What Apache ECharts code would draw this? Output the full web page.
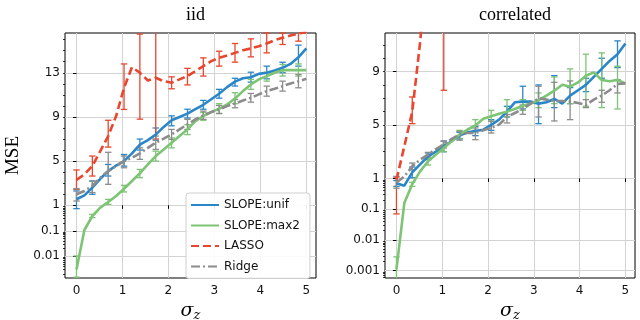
<!DOCTYPE html>
<html><head><meta charset="utf-8">
<script src="https://cdn.jsdelivr.net/npm/echarts@6/dist/echarts.min.js"></script>
<style>html,body{margin:0;padding:0;background:#fff}#c{width:640px;height:320px}</style>
</head><body><div id="c"></div>
<script>
// x positions (sigma_z)
const sigma = [0,0.172,0.345,0.517,0.690,0.862,1.034,1.207,1.379,1.552,1.724,1.897,2.069,2.241,2.414,2.586,2.759,2.931,3.103,3.276,3.448,3.621,3.793,3.966,4.138,4.310,4.483,4.655,4.828,5.0];
// error bars are drawn at every other sigma (index 0,2,...,28)

// ---- iid panel ----
const iidUnif   = [1.55,1.9,2.6,3.4,4.1,4.6,5.0,5.7,6.5,6.9,7.4,8.1,8.7,9.0,9.3,9.7,10.1,10.6,11.1,11.7,12.2,12.5,12.6,12.9,13.0,13.2,13.45,13.8,14.4,15.2];
const iidUnifLo = [0.74,2.0,3.65,4.55,6.0,6.9,8.2,8.9,9.7,10.7,11.8,12.15,12.45,13.0,13.6];
const iidUnifHi = [2.3,3.2,4.7,5.6,7.0,8.0,9.1,9.7,10.5,11.5,12.5,13.05,13.6,13.95,15.5];

const iidMax2   = [0.003,0.107,0.38,0.81,1.30,1.84,2.5,3.2,3.9,4.7,5.46,6.06,6.67,7.27,7.87,8.62,9.08,9.44,9.74,10.13,10.67,11.34,11.94,12.4,12.7,13.0,13.24,13.24,13.24,13.24];
const iidMax2Lo = [0.0015,0.33,1.09,2.21,3.5,5.0,6.2,7.4,8.7,9.3,10.2,11.5,12.24,12.7,12.7];
const iidMax2Hi = [0.0102,0.44,1.54,2.81,4.25,5.9,7.1,8.3,9.4,10.2,11.2,12.4,13.05,13.75,13.8];

const iidLasso   = [3.29,3.8,4.56,5.9,7.27,9.08,11.64,13.5,13.0,12.3,12.55,12.24,12.1,12.4,12.7,13.15,13.6,14.05,14.35,14.56,14.8,15.04,15.2,15.4,15.65,15.95,16.16,16.37,16.55,16.67];
const iidLassoLo = [2.45,3.65,6.27,9.68,8.8,7.0,11.55,11.9,12.7,13.6,13.96,14.44,14.8,15.56,15.86];
const iidLassoHi = [4.2,5.46,8.7,13.8,16.5,25,12.63,13.4,14.35,14.95,15.65,16.07,16.6,16.6,16.76];

const iidRidge   = [2.0,2.3,2.75,3.5,4.1,4.56,5.0,5.3,5.7,6.2,6.67,7.03,7.42,7.87,8.32,8.78,9.14,9.44,9.68,9.98,10.22,10.49,10.73,11.04,11.34,11.55,11.79,12.03,12.24,12.45];
const iidRidgeLo = [1.39,2.15,2.9,4.4,5.16,6.06,6.97,7.87,8.78,9.32,9.83,10.34,10.88,11.34,11.64];
const iidRidgeHi = [2.5,3.2,5.8,5.46,6.2,7.27,7.87,8.78,9.53,10.04,10.58,11.13,11.79,12.24,12.84];

// ---- correlated panel ----
const corUnif   = [0.7,0.58,1.45,2.05,2.65,3.0,3.4,3.8,4.2,4.45,4.55,4.65,5.0,5.4,6.0,6.7,6.75,6.75,6.6,6.7,6.95,6.6,7.2,7.6,8.0,8.6,9.2,9.8,10.3,11.1];
const corUnifLo = [0.55,1.05,2.4,3.0,3.95,4.2,4.6,5.6,6.2,5.1,6.3,6.6,7.5,8.5,9.3];
const corUnifHi = [0.85,1.85,2.9,3.8,4.45,4.9,5.4,6.4,7.9,8.0,8.7,7.8,8.5,10.0,11.3];

const corMax2   = [0.0011,0.157,0.65,1.53,2.28,2.78,3.28,3.78,4.28,4.66,4.96,5.46,5.66,5.84,6.0,6.2,6.44,6.6,6.86,7.2,7.57,8.02,7.87,8.19,8.69,8.94,8.37,8.27,8.37,8.12];
const corMax2Lo = [0.0004,0.55,2.0,3.0,4.0,4.6,5.3,5.6,6.1,6.3,6.6,6.6,6.4,6.3,6.2];
const corMax2Hi = [0.0028,0.75,2.5,3.5,4.6,5.4,6.1,6.9,6.9,7.4,8.6,9.2,10.3,10.4,9.4];

const corLasso   = [0.9,3.4,6.0,11.2,18,22,27,31,35,38,41,44,46,48,50,52,54,56,58,60,62,63,64,66,68,69,70,72,74,75];
const corLassoLo = [0.07,5.1,14,7.6,20,25,28,32,35,38,40,42,45,47,50];
const corLassoHi = [1.1,7.1,25,30,40,45,50,55,60,65,70,75,80,85,90];

const corRidge   = [0.74,1.15,1.9,2.4,2.78,3.2,3.53,3.96,4.28,4.4,4.4,4.6,4.78,5.03,5.6,5.9,6.2,6.6,7.0,6.9,6.8,6.8,6.76,6.65,6.5,6.9,7.2,7.6,8.07,8.12];
const corRidgeLo = [0.48,1.65,2.6,3.28,3.86,3.9,4.4,5.15,5.8,5.6,5.3,5.4,6.3,6.7,7.4];
const corRidgeHi = [1.15,2.15,2.95,3.78,4.53,4.78,5.28,5.78,6.5,7.9,8.2,8.3,6.9,7.6,8.4];

// tick labels
const iidTicks = [0.01,0.1,1,5,9,13];
const corTicks = [0.001,0.01,0.1,1,5,9];
const xTicks = [0,1,2,3,4,5];
const legendNames = ['SLOPE:unif','SLOPE:max2','LASSO','Ridge'];

// mixed scale: log below 1, linear above 1 (continuous slope at 1)
function T(y){ return y >= 1 ? y - 1 : Math.log(y); }
function fmt(t){
  const v = t >= -1e-9 ? t + 1 : Math.exp(t);
  if (v >= 1) return String(Math.round(v));
  const d = Math.round(-Math.log10(v));
  return v.toFixed(d);
}
function minorTicks(minT, maxT){
  const out = [];
  for (let e = -4; e <= -1; e++) for (let m = 2; m <= 9; m++){ const v = m*Math.pow(10,e); const t=T(v); if (t>minT && t<maxT) out.push(t); }
  for (let v = 2; v <= 20; v++){ const t = T(v); if (t < maxT) out.push(t); }
  return out;
}

const C = {unif:'#2b86c8', max2:'#7dc474', lasso:'#e8462f', ridge:'#8c8c8c'};
const FONT = 'DejaVu Sans';

function lineS(name, vals, gi, color, type){
  return {
    type:'line', name:name, xAxisIndex:gi, yAxisIndex:gi*2,
    data: vals.map((v,i)=>[sigma[i], T(v)]),
    showSymbol:false, symbol:'none', clip:true, silent:true,
    lineStyle:{color:color, width:2.6, type:type, cap:'butt'},
    itemStyle:{color:color}, animation:false
  };
}
function errS(lo, hi, gi, color){
  return {
    type:'custom', name:'err', xAxisIndex:gi, yAxisIndex:gi*2, silent:true, animation:false,
    encode:{x:0, y:[1,2]},
    data: lo.map((l,k)=>[sigma[2*k], T(l), T(hi[k])]),
    renderItem: function(params, api){
      const x = api.value(0);
      const p1 = api.coord([x, api.value(1)]);
      const p2 = api.coord([x, api.value(2)]);
      const cs = params.coordSys;
      const top = cs.y, bot = cs.y + cs.height;
      const a = Math.min(Math.max(p1[1], top), bot);
      const b = Math.min(Math.max(p2[1], top), bot);
      if (Math.abs(a-b) < 0.01) return null;
      const st = {stroke:color, lineWidth:1.3};
      const ch = [{type:'line', shape:{x1:p1[0],y1:a,x2:p1[0],y2:b}, style:st}];
      const w = 3.2;
      if (p1[1] >= top && p1[1] <= bot) ch.push({type:'line', shape:{x1:p1[0]-w,y1:p1[1],x2:p1[0]+w,y2:p1[1]}, style:st});
      if (p2[1] >= top && p2[1] <= bot) ch.push({type:'line', shape:{x1:p2[0]-w,y1:p2[1],x2:p2[0]+w,y2:p2[1]}, style:st});
      return {type:'group', children:ch};
    }
  };
}

const ranges = [{min:-6.58, max:15.6}, {min:-7.46, max:10.89}];
const tickSets = [iidTicks, corTicks];

const grids = [
  {left:65, width:251, top:33, bottom:42, outerBoundsMode:'none', containLabel:false, show:true, borderColor:'#000', borderWidth:1, backgroundColor:'transparent'},
  {left:385, width:250, top:33, bottom:42, outerBoundsMode:'none', containLabel:false, show:true, borderColor:'#000', borderWidth:1, backgroundColor:'transparent'}
];
const xAxes = [0,1].map(gi=>({
  type:'value', gridIndex:gi, min:-0.25, max:5.21,
  axisLine:{show:false},
  axisTick:{show:true, length:3.5, lineStyle:{color:'#000'}, customValues:xTicks},
  axisLabel:{customValues:xTicks, margin:7, color:'#111', fontSize:12, fontFamily:FONT, formatter:v=>String(Math.round(v))},
  splitLine:{show:true, lineStyle:{color:'#d3d3d3', width:1}},
  name:'{s|σ}{z|z}', nameLocation:'middle', nameGap:19,
  nameTextStyle:{rich:{s:{fontFamily:'DejaVu Serif', fontStyle:'italic', fontSize:19, color:'#000'}, z:{fontFamily:'DejaVu Serif', fontStyle:'italic', fontSize:13, color:'#000', padding:[8,0,0,0]}}}
}));
const yAxes = [];
[0,1].forEach(gi=>{
  const tv = tickSets[gi].map(T);
  yAxes.push({
    type:'value', gridIndex:gi, min:ranges[gi].min, max:ranges[gi].max,
    axisLine:{show:false},
    axisTick:{show:true, length:3.5, lineStyle:{color:'#000'}, customValues:tv},
    axisLabel:{customValues:tv, margin:5, color:'#111', fontSize:12, fontFamily:FONT, formatter:v=>fmt(v)},
    splitLine:{show:true, lineStyle:{color:'#d3d3d3', width:1}},
    name: gi===0 ? 'MSE' : '', nameLocation:'middle', nameGap:42,
    nameTextStyle:{fontFamily:'Liberation Serif', fontSize:19, color:'#000'}
  });
  yAxes.push({
    type:'value', gridIndex:gi, min:ranges[gi].min, max:ranges[gi].max, position:'left',
    axisLine:{show:false}, axisLabel:{show:false}, splitLine:{show:false},
    axisTick:{show:true, length:2, lineStyle:{color:'#000', width:0.8}, customValues:minorTicks(ranges[gi].min, ranges[gi].max)}
  });
});

const series = [
  errS(iidUnifLo, iidUnifHi, 0, C.unif), lineS('SLOPE:unif', iidUnif, 0, C.unif, 'solid'),
  errS(iidMax2Lo, iidMax2Hi, 0, C.max2), lineS('SLOPE:max2', iidMax2, 0, C.max2, 'solid'),
  errS(iidLassoLo, iidLassoHi, 0, C.lasso), lineS('LASSO', iidLasso, 0, C.lasso, [8,4]),
  errS(iidRidgeLo, iidRidgeHi, 0, C.ridge), lineS('Ridge', iidRidge, 0, C.ridge, [9,3,2,3]),
  errS(corUnifLo, corUnifHi, 1, C.unif), lineS('SLOPE:unif', corUnif, 1, C.unif, 'solid'),
  errS(corMax2Lo, corMax2Hi, 1, C.max2), lineS('SLOPE:max2', corMax2, 1, C.max2, 'solid'),
  errS(corLassoLo, corLassoHi, 1, C.lasso), lineS('LASSO', corLasso, 1, C.lasso, [8,4]),
  errS(corRidgeLo, corRidgeHi, 1, C.ridge), lineS('Ridge', corRidge, 1, C.ridge, [9,3,2,3])
];

const chart = echarts.init(document.getElementById('c'), null, {renderer:'canvas'});
chart.setOption({
  animation:false,
  backgroundColor:'#fff',
  title:[
    {text:'iid', left:190.5, top:1, textAlign:'center', textStyle:{fontFamily:'Liberation Serif', fontSize:18, fontWeight:'normal', color:'#000'}},
    {text:'correlated', left:510, top:1, textAlign:'center', textStyle:{fontFamily:'Liberation Serif', fontSize:18, fontWeight:'normal', color:'#000'}}
  ],
  legend:{
    data:legendNames, orient:'vertical', left:186, top:193,
    itemWidth:28, itemHeight:10, itemGap:8.5, padding:[6,10,6,4],
    itemStyle:{opacity:0},
    backgroundColor:'rgba(255,255,255,0.9)', borderColor:'#cfcfcf', borderWidth:1, borderRadius:3,
    textStyle:{fontFamily:FONT, fontSize:12, color:'#111'}, selectedMode:false
  },
  grid:grids, xAxis:xAxes, yAxis:yAxes, series:series
});
</script></body></html>
